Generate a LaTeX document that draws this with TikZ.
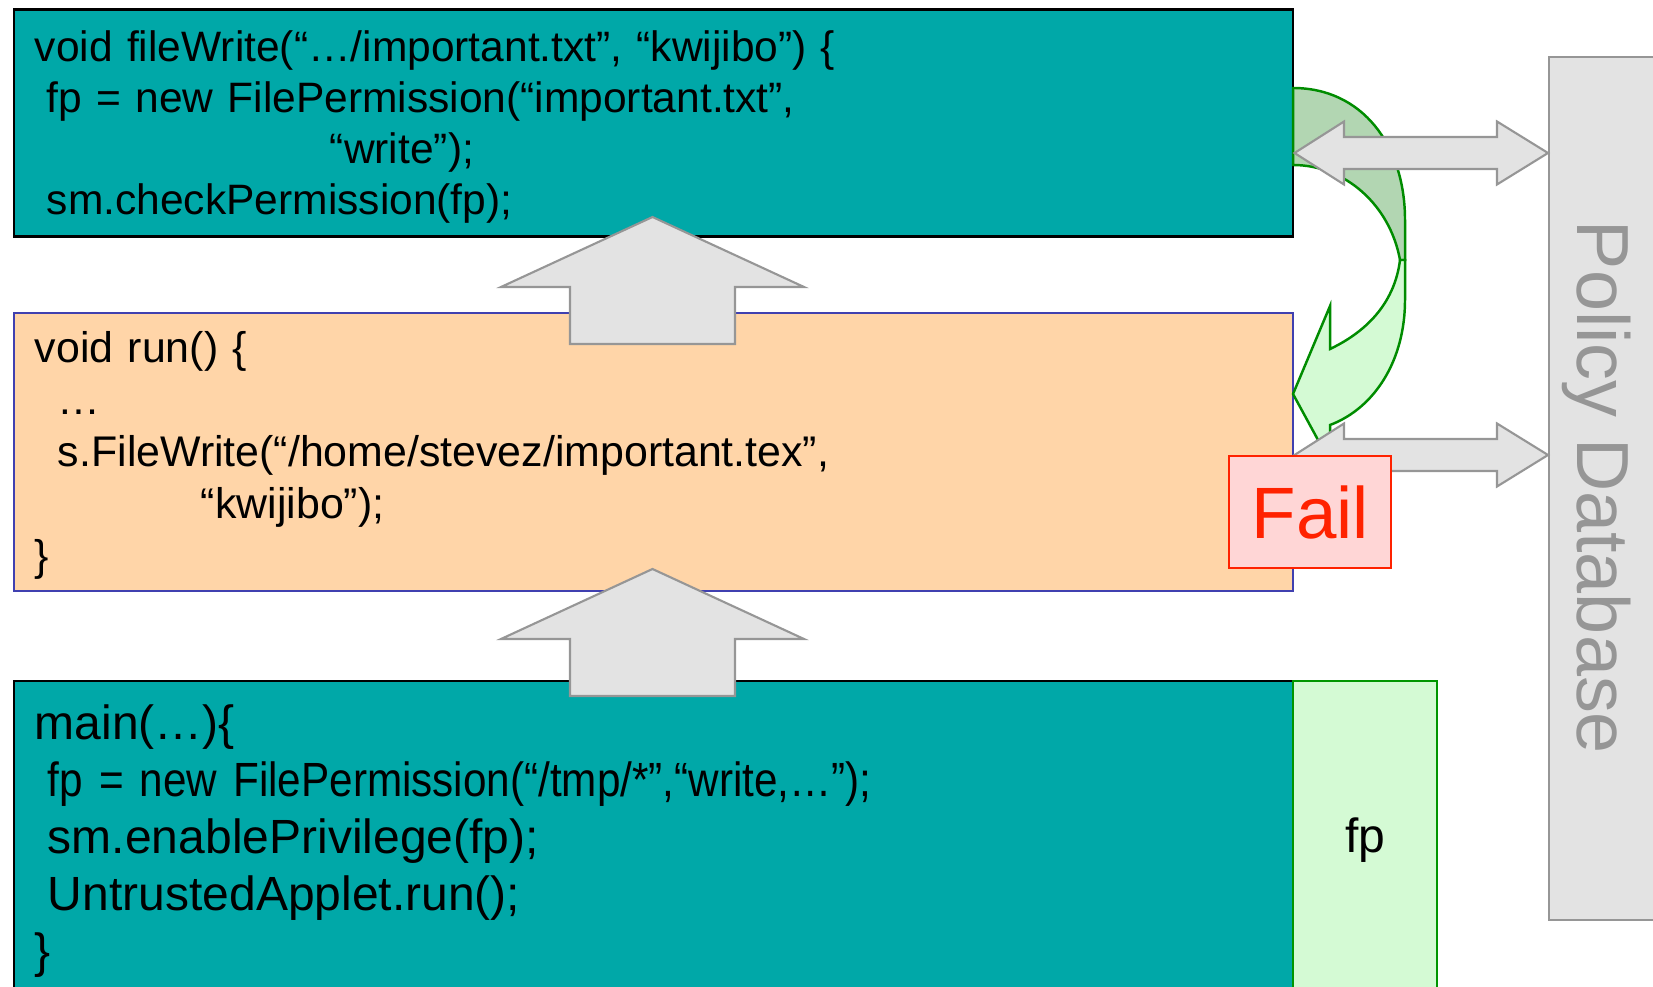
\documentclass[tikz,border=0pt]{standalone}
\usepackage{fontspec}
\setmainfont{Liberation Sans}
\newfontfamily\narrowfont[FakeStretch=0.88]{Liberation Sans}
\usetikzlibrary{calc}

\definecolor{codeteal}{RGB}{0,168,168}
\definecolor{runpeach}{RGB}{255,213,168}
\definecolor{runblue}{RGB}{64,64,176}
\definecolor{fpgreen}{RGB}{0,150,0}
\definecolor{fpfill}{RGB}{212,250,212}
\definecolor{bendgreen}{RGB}{0,140,0}
\definecolor{benddark}{RGB}{178,214,178}
\definecolor{arrowgray}{RGB}{150,150,150}
\definecolor{arrowfill}{RGB}{227,227,227}
\definecolor{failred}{RGB}{255,34,0}
\definecolor{failfill}{RGB}{255,214,214}

\tikzset{
  codebox/.style={draw, line width=0.7pt, anchor=north west, align=left,
    inner xsep=2.1mm, inner ysep=0pt, text width=123.7mm},
  blockarrow/.style={draw=arrowgray, fill=arrowfill, line width=0.6pt, line join=miter},
  bendarrow/.style={draw=bendgreen, line width=0.7pt, line join=miter},
}

\begin{document}
\begin{tikzpicture}[x=0.1mm,y=-0.1mm]
	\useasboundingbox (0,0) rectangle (1653,987);
	% code boxes
	\node[codebox, fill=codeteal, minimum height=22.7mm,
	  font=\fontsize{12.1}{14.5}\selectfont] (fw) at (12.7,8.4)
	  {\rule{0pt}{3.84mm}void fileWrite(“…/important.txt”, “kwijibo”) \{\\
	   \hspace*{1.2mm}fp = new FilePermission(“important.txt”,\\
	   \hspace*{29.5mm}“write”);\\
	   \hspace*{1.2mm}sm.checkPermission(fp);};
	\node[codebox, draw=runblue, fill=runpeach, minimum height=27.8mm,
	  font=\fontsize{12.2}{14.8}\selectfont] (run) at (12.7,312)
	  {\rule{0pt}{3.71mm}void run() \{\\
	   \hspace*{2.3mm}…\\
	   \hspace*{2.3mm}s.FileWrite(“/home/stevez/important.tex”,\\
	   \hspace*{16.6mm}“kwijibo”);\\
	   \}};
	\node[codebox, fill=codeteal, minimum height=31mm,
	  font=\fontsize{13.66}{16.2}\selectfont] (main) at (12.7,680)
	  {\rule{0pt}{4.39mm}main(…)\{\\
	   \hspace*{1.3mm}{\narrowfont fp = new FilePermission(“/tmp/*”,“write,…”);}\\
	   \hspace*{1.3mm}sm.enablePrivilege(fp);\\
	   \hspace*{1.3mm}UntrustedApplet.run();\\
	   \}};
	\node[draw=fpgreen, fill=fpfill, line width=0.7pt, anchor=north west,
	  minimum width=14.4mm, minimum height=31mm,
	  font=\fontsize{13.66}{16.2}\selectfont] (fp) at (1292,680) {\rule{0pt}{4.34mm}fp};
	% call arrows
	\foreach \ty in {217,569}
		\draw[blockarrow] (652.5,\ty) -- ++(151.5,70) -- ++(-69,0) -- ++(0,57)
		  -- ++(-165,0) -- ++(0,-57) -- ++(-69,0) -- cycle;
	% stack walk back down (curved)
	\draw[bendarrow, fill=benddark] (1293,88) .. controls (1362,88) and (1405,145) .. (1405,220)
	  -- (1405,260) -- (1400,260) .. controls (1390,205) and (1345,165) .. (1293,165) -- cycle;
	\draw[bendarrow, fill=fpfill] (1405,260) -- (1405,300) .. controls (1405,360) and (1375,408) .. (1330,425)
	  -- (1330,462) -- (1293,394) -- (1330,306) -- (1330,349)
	  .. controls (1370,330) and (1395,300) .. (1400,260) -- cycle;
	% policy
	\node[draw=arrowgray, fill=arrowfill, line width=0.6pt, anchor=north west,
	  minimum width=11.5mm, minimum height=86.3mm] (policy) at (1548,56) {};
	\node[rotate=-90, anchor=base, text=arrowgray,
	  font=\fontsize{21}{24}\selectfont] (policytext) at (1577,487.5) {Policy Database};
	\foreach \dy in {153,455}
		\draw[blockarrow] (1294.5,\dy) -- ++(49.5,-31.5) -- ++(0,15.5) -- ++(153,0)
		  -- ++(0,-15.5) -- ++(51,31.5) -- ++(-51,31.5) -- ++(0,-15.5)
		  -- ++(-153,0) -- ++(0,15.5) -- cycle;
	\node[draw=failred, fill=failfill, text=failred, line width=0.7pt, anchor=north west,
	  minimum width=16.2mm, minimum height=11.2mm, inner sep=0pt,
	  font=\fontsize{20.7}{24}\selectfont] (fail) at (1228,455) {Fail};
\end{tikzpicture}
\end{document}
